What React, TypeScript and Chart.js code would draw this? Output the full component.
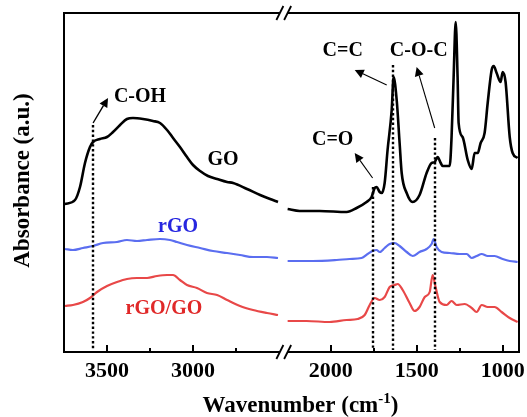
import React, { useEffect, useRef } from "react";
import { Chart, registerables } from "chart.js";

Chart.register(...registerables);

// ---------- data (wavenumber in cm-1, absorbance in a.u.) ----------
// GO
const GO_LEFT_WN = [3745, 3686, 3657, 3628, 3599, 3581, 3541, 3500, 3465, 3424, 3384, 3349, 3291, 3233, 3192, 3151, 3116, 3076, 3035, 3000, 2959, 2913, 2860, 2802, 2767, 2686, 2610, 2552, 2506];
const GO_LEFT_ABS = [1.48, 1.52, 1.65, 1.89, 2.05, 2.1, 2.13, 2.15, 2.2, 2.27, 2.33, 2.34, 2.33, 2.31, 2.29, 2.22, 2.14, 2.05, 1.95, 1.87, 1.81, 1.76, 1.73, 1.7, 1.69, 1.63, 1.57, 1.53, 1.5];
const GO_RIGHT_WN = [2250, 2180, 2064, 1907, 1849, 1791, 1762, 1744, 1733, 1715, 1703, 1686, 1669, 1645, 1634, 1616, 1599, 1587, 1558, 1523, 1483, 1442, 1413, 1395, 1378, 1360, 1349, 1308, 1297, 1285, 1273, 1262, 1256, 1233, 1203, 1180, 1163, 1145, 1128, 1105, 1087, 1064, 1052, 1035, 1012, 1000, 983, 959, 942, 913];
const GO_RIGHT_ABS = [1.43, 1.41, 1.41, 1.4, 1.44, 1.5, 1.55, 1.64, 1.65, 1.6, 1.59, 1.69, 2.02, 2.42, 2.75, 2.52, 2.09, 1.79, 1.59, 1.5, 1.57, 1.79, 1.89, 1.9, 1.95, 1.89, 1.86, 1.86, 2.15, 2.75, 3.3, 2.75, 2.29, 2.15, 1.92, 1.83, 1.99, 1.99, 2.09, 2.19, 2.49, 2.82, 2.86, 2.79, 2.7, 2.8, 2.7, 2.15, 1.99, 1.94];
// rGO
const RGO_LEFT_WN = [3744, 3698, 3640, 3581, 3523, 3442, 3384, 3326, 3267, 3192, 3134, 3093, 3035, 2959, 2884, 2802, 2727, 2651, 2570, 2506];
const RGO_LEFT_ABS = [1.03, 1.02, 1.04, 1.06, 1.09, 1.1, 1.12, 1.11, 1.12, 1.13, 1.12, 1.1, 1.07, 1.04, 1.01, 0.99, 0.97, 0.95, 0.95, 0.94];
const RGO_RIGHT_WN = [2250, 2105, 1965, 1890, 1820, 1785, 1756, 1733, 1715, 1686, 1657, 1628, 1599, 1558, 1523, 1483, 1442, 1413, 1401, 1384, 1355, 1308, 1250, 1209, 1180, 1151, 1122, 1087, 1047, 1000, 959, 913];
const RGO_RIGHT_ABS = [0.91, 0.91, 0.92, 0.93, 0.94, 0.98, 1.01, 1.02, 1.0, 1.04, 1.08, 1.09, 1.06, 1.0, 0.96, 1.0, 1.03, 1.08, 1.13, 1.05, 1.0, 0.99, 0.98, 0.98, 0.94, 0.96, 0.98, 0.96, 0.96, 0.93, 0.91, 0.9];
// rGO/GO
const MIX_LEFT_WN = [3744, 3698, 3640, 3599, 3558, 3500, 3442, 3384, 3326, 3267, 3209, 3151, 3116, 3076, 3035, 2977, 2919, 2860, 2802, 2727, 2651, 2570, 2506];
const MIX_LEFT_ABS = [0.46, 0.47, 0.5, 0.54, 0.6, 0.66, 0.7, 0.73, 0.74, 0.74, 0.76, 0.77, 0.77, 0.72, 0.67, 0.64, 0.59, 0.57, 0.52, 0.46, 0.42, 0.39, 0.37];
const MIX_RIGHT_WN = [2250, 2140, 2006, 1907, 1843, 1802, 1773, 1744, 1715, 1686, 1657, 1628, 1610, 1581, 1541, 1512, 1483, 1453, 1424, 1407, 1390, 1366, 1326, 1297, 1267, 1221, 1180, 1151, 1122, 1087, 1047, 1006, 959, 913];
const MIX_RIGHT_ABS = [0.31, 0.31, 0.3, 0.32, 0.33, 0.37, 0.47, 0.54, 0.52, 0.55, 0.65, 0.67, 0.68, 0.62, 0.49, 0.41, 0.45, 0.55, 0.6, 0.77, 0.65, 0.5, 0.47, 0.51, 0.47, 0.48, 0.44, 0.4, 0.47, 0.45, 0.45, 0.4, 0.34, 0.3];

// axis
const MAJOR_TICKS = [3500, 3000, 2000, 1500, 1000];
const MINOR_TICKS = [3250, 2750, 1750, 1250];
const X_START = 3750;
const X_END = 905;
const LEFT_PANEL_END = 2495;
const RIGHT_PANEL_START = 2250;
const AXIS_SHIFT = 200; // collapsed part of the broken axis
const Y_MAX = 3.39;

// peak annotations
const PEAK_NAMES = ["C-OH", "C=O", "C=C", "C-O-C"];
const PEAK_WN = [3580, 1756, 1640, 1395];
const PEAK_LINE_TOP = [2.27, 1.65, 2.87, 2.14];
const ARROW_TAIL_WN = [3581, 1756, 1674, 1395];
const ARROW_TAIL_ABS = [2.29, 1.74, 2.67, 2.24];
const ARROW_HEAD_WN = [3494, 1860, 1860, 1500];
const ARROW_HEAD_ABS = [2.54, 1.99, 2.82, 2.85];
const LABEL_WN = [3308, 1988, 1930, 1488];
const LABEL_ABS = [2.55, 2.12, 3.01, 3.01];

// series labels
const SERIES_NAMES = ["GO", "rGO", "rGO/GO"];
const SERIES_LABEL_WN = [2826, 3087, 3169];
const SERIES_LABEL_ABS = [1.92, 1.25, 0.43];

const LINE_COLORS = ["#000000", "#5b6ef0", "#e84848"];
const TEXT_COLORS = ["#000000", "#2626e0", "#e02828"];
const SERIF = '"Liberation Serif", "Times New Roman", serif';

const toAxis = (w: number) => (w > 2400 ? w : w + AXIS_SHIFT);
const fromAxis = (u: number) => (u > 2400 ? u : u - AXIS_SHIFT);

function series(wn: number[], abs: number[]) {
  return wn.map((w, i) => ({ x: toAxis(w), y: abs[i] }));
}

const decorPlugin = {
  id: "decor",
  afterDatasetsDraw(chart: any) {
    const { ctx, chartArea: a, scales } = chart;
    const x = scales.x;
    const y = scales.y;
    const px = (w: number) => x.getPixelForValue(toAxis(w));
    const py = (v: number) => y.getPixelForValue(v);
    ctx.save();

    // dotted lines
    ctx.strokeStyle = "#000";
    ctx.lineWidth = 2.4;
    ctx.setLineDash([2.4, 2.4]);
    PEAK_WN.forEach((w, i) => {
      const xx = Math.round(px(w));
      ctx.beginPath();
      ctx.moveTo(xx, py(PEAK_LINE_TOP[i]));
      ctx.lineTo(xx, a.bottom - 2);
      ctx.stroke();
    });
    ctx.setLineDash([]);

    // arrows
    PEAK_WN.forEach((_, i) => {
      const x1 = px(ARROW_TAIL_WN[i]);
      const y1 = py(ARROW_TAIL_ABS[i]);
      const x2 = px(ARROW_HEAD_WN[i]);
      const y2 = py(ARROW_HEAD_ABS[i]);
      const ang = Math.atan2(y2 - y1, x2 - x1);
      const hl = 9;
      const hw = 4.5;
      const bx = x2 - hl * Math.cos(ang);
      const by = y2 - hl * Math.sin(ang);
      ctx.strokeStyle = "#000";
      ctx.lineWidth = i === 0 ? 1.4 : 1.1;
      ctx.beginPath();
      ctx.moveTo(x1, y1);
      ctx.lineTo(bx, by);
      ctx.stroke();
      ctx.fillStyle = "#000";
      ctx.beginPath();
      ctx.moveTo(x2, y2);
      ctx.lineTo(bx + hw * Math.sin(ang), by - hw * Math.cos(ang));
      ctx.lineTo(bx - hw * Math.sin(ang), by + hw * Math.cos(ang));
      ctx.closePath();
      ctx.fill();
    });

    // labels
    ctx.font = `bold 20px ${SERIF}`;
    ctx.textAlign = "center";
    ctx.textBaseline = "middle";
    ctx.fillStyle = "#000";
    PEAK_NAMES.forEach((n, i) => ctx.fillText(n, px(LABEL_WN[i]), py(LABEL_ABS[i])));
    SERIES_NAMES.forEach((n, i) => {
      ctx.fillStyle = TEXT_COLORS[i];
      ctx.fillText(n, px(SERIES_LABEL_WN[i]), py(SERIES_LABEL_ABS[i]));
    });

    // frame with break
    const bL = x.getPixelForValue(LEFT_PANEL_END);
    const bR = x.getPixelForValue(toAxis(RIGHT_PANEL_START));
    ctx.strokeStyle = "#000";
    ctx.lineWidth = 2;
    ctx.beginPath();
    ctx.moveTo(bL, a.top);
    ctx.lineTo(a.left, a.top);
    ctx.lineTo(a.left, a.bottom);
    ctx.lineTo(bL, a.bottom);
    ctx.moveTo(bR, a.top);
    ctx.lineTo(a.right, a.top);
    ctx.lineTo(a.right, a.bottom);
    ctx.lineTo(bR, a.bottom);
    ctx.stroke();
    ctx.lineWidth = 1.8;
    [a.top, a.bottom].forEach((yy: number) => {
      [bL, bR].forEach((bx: number) => {
        ctx.beginPath();
        ctx.moveTo(bx - 3.5, yy + 7);
        ctx.lineTo(bx + 3.5, yy - 7);
        ctx.stroke();
      });
    });

    // inward ticks
    ctx.lineWidth = 2;
    MAJOR_TICKS.forEach((w) => {
      const xx = Math.round(px(w));
      ctx.beginPath();
      ctx.moveTo(xx, a.bottom);
      ctx.lineTo(xx, a.bottom - 7);
      ctx.stroke();
    });
    MINOR_TICKS.forEach((w) => {
      const xx = Math.round(px(w));
      ctx.beginPath();
      ctx.moveTo(xx, a.bottom);
      ctx.lineTo(xx, a.bottom - 4);
      ctx.stroke();
    });

    // axis titles
    ctx.fillStyle = "#000";
    ctx.textBaseline = "alphabetic";
    ctx.textAlign = "left";
    const mainFont = `bold 23px ${SERIF}`;
    const supFont = `bold 15px ${SERIF}`;
    const p1 = "Wavenumber (cm";
    const p2 = "-1";
    const p3 = ")";
    ctx.font = mainFont;
    const w1 = ctx.measureText(p1).width;
    const w3 = ctx.measureText(p3).width;
    ctx.font = supFont;
    const w2 = ctx.measureText(p2).width;
    const total = w1 + w2 + w3;
    let tx = (a.left + a.right) / 2 + 9 - total / 2;
    const base = 412;
    ctx.font = mainFont;
    ctx.fillText(p1, tx, base);
    tx += w1;
    ctx.font = supFont;
    ctx.fillText(p2, tx, base - 9);
    tx += w2;
    ctx.font = mainFont;
    ctx.fillText(p3, tx, base);

    ctx.save();
    ctx.translate(23, (a.top + a.bottom) / 2 - 2);
    ctx.rotate(-Math.PI / 2);
    ctx.textAlign = "center";
    ctx.textBaseline = "middle";
    ctx.font = mainFont;
    ctx.fillText("Absorbance (a.u.)", 0, 0);
    ctx.restore();

    ctx.restore();
  },
};

export default function App() {
  const ref = useRef<HTMLCanvasElement | null>(null);

  useEffect(() => {
    document.body.style.margin = "0";
    const canvas = ref.current;
    if (!canvas) return;
    const mk = (wn: number[], abs: number[], i: number) => ({
      data: series(wn, abs),
      borderColor: LINE_COLORS[i],
      borderWidth: i === 0 ? 2.6 : 2.2,
      pointRadius: 0,
      fill: false,
      cubicInterpolationMode: "monotone" as const,
    });
    const chart = new Chart(canvas, {
      type: "line",
      data: {
        datasets: [
          mk(MIX_LEFT_WN, MIX_LEFT_ABS, 2),
          mk(MIX_RIGHT_WN, MIX_RIGHT_ABS, 2),
          mk(RGO_LEFT_WN, RGO_LEFT_ABS, 1),
          mk(RGO_RIGHT_WN, RGO_RIGHT_ABS, 1),
          mk(GO_LEFT_WN, GO_LEFT_ABS, 0),
          mk(GO_RIGHT_WN, GO_RIGHT_ABS, 0),
        ],
      },
      options: {
        responsive: false,
        animation: false,
        layout: { autoPadding: false, padding: { top: 13, right: 8, bottom: 0, left: 0 } },
        plugins: { legend: { display: false }, tooltip: { enabled: false } },
        scales: {
          x: {
            type: "linear",
            reverse: true,
            min: toAxis(X_END),
            max: X_START,
            grid: { display: false, drawTicks: false },
            border: { display: false },
            afterBuildTicks: (s: any) => {
              s.ticks = MAJOR_TICKS.map((w) => ({ value: toAxis(w) }));
            },
            afterFit: (s: any) => {
              s.height = 65;
              s.paddingLeft = 0;
              s.paddingRight = 0;
            },
            ticks: {
              autoSkip: false,
              maxRotation: 0,
              padding: 6,
              color: "#000",
              font: { family: SERIF, size: 22, weight: "bold" },
              callback: (v: any) => String(fromAxis(Number(v))),
            },
          },
          y: {
            min: 0,
            max: Y_MAX,
            ticks: { display: false },
            grid: { display: false },
            border: { display: false },
            afterFit: (s: any) => {
              s.width = 64;
              s.paddingTop = 0;
              s.paddingBottom = 0;
            },
          },
        },
      },
      plugins: [decorPlugin],
    });
    return () => chart.destroy();
  }, []);

  return (
    <div style={{ width: 527, height: 417 }}>
      <canvas ref={ref} width={527} height={417} style={{ display: "block" }} />
    </div>
  );
}
